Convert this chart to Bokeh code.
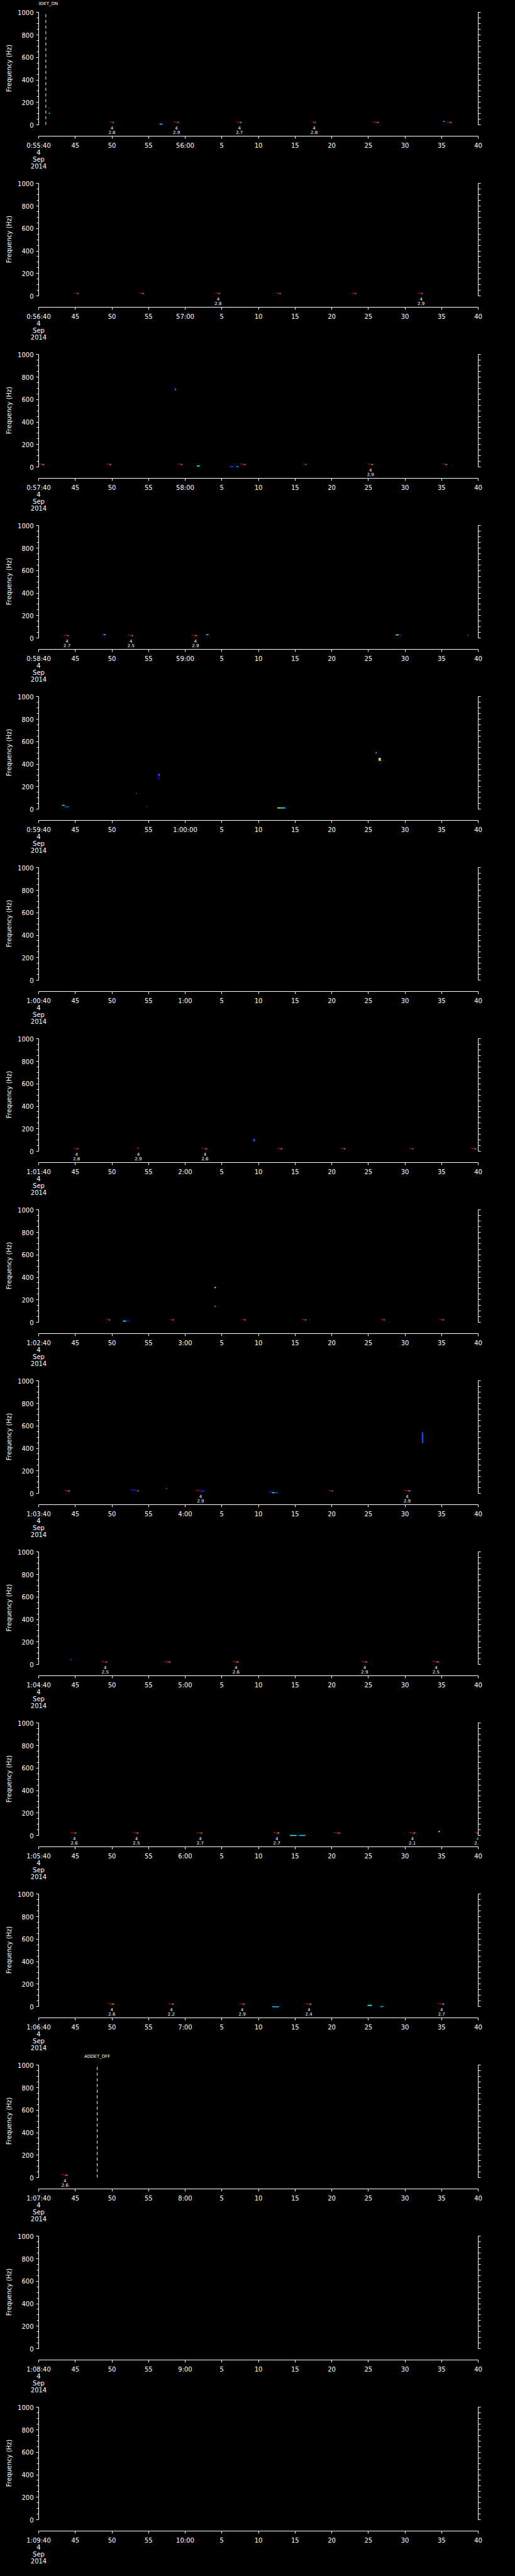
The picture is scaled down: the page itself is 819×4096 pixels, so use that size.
import numpy as np
from bokeh.plotting import figure
from bokeh.layouts import column
from bokeh.models import Range1d, LinearAxis, FixedTicker, ColumnDataSource, LinearColorMapper
from bokeh.core.properties import value
from bokeh.embed import file_html
from bokeh.resources import INLINE

# ---------------- data ----------------
panel_start_labels = ["0:55:40", "0:56:40", "0:57:40", "0:58:40", "0:59:40",
                      "1:00:40", "1:01:40", "1:02:40", "1:03:40", "1:04:40",
                      "1:05:40", "1:06:40", "1:07:40", "1:08:40", "1:09:40"]
date_lines = ["4", "Sep", "2014"]
freq_major = [0, 200, 400, 600, 800, 1000]
freq_minor = [50, 100, 150, 250, 300, 350, 450, 500, 550, 650, 700, 750, 850, 900, 950]

# detected signal spectral signature (fraction of duration, freq offset Hz, level)
sig_frac0 = [0.00, 0.40, 0.73, 0.82, 0.91]
sig_frac1 = [0.40, 0.73, 0.82, 0.91, 1.00]
sig_df = [5, 0, 0, 0, 0]
sig_level = [0.97, 0.93, 0.62, 0.38, 0.15]
sig_base_freq = 22

# detected signals: panel, start (s after panel start), duration (s)
tp_panel = [0, 0, 0, 0, 0, 0,
            1, 1, 1, 1, 1, 1,
            2, 2, 2, 2, 2, 2, 2,
            3, 3, 3,
            6, 6, 6, 6, 6, 6,
            7, 7, 7, 7, 7, 7,
            8, 8, 8, 8, 8,
            9, 9, 9, 9, 9,
            10, 10, 10, 10, 10, 10, 10,
            11, 11, 11, 11, 11,
            12]
tp_t = [9.6, 18.4, 26.95, 37.2, 45.6, 55.7,
        4.9, 13.7, 24.1, 32.4, 42.7, 51.8,
        0.0, 9.25, 19.0, 27.5, 36.1, 44.9, 55.1,
        3.44, 12.15, 20.87,
        4.82, 22.25, 32.6, 41.2, 50.6, 59.0,
        9.27, 17.87, 27.7, 35.9, 46.7, 54.7,
        3.52, 13.15, 21.4, 39.6, 49.8,
        8.6, 17.16, 26.47, 44.06, 53.7,
        4.34, 12.86, 21.58, 32.03, 40.3, 50.56, 59.5,
        9.47, 17.67, 27.3, 36.37, 54.5,
        3.04]
tp_dur = [0.75, 0.8, 0.8, 0.7, 0.9, 0.7,
          0.6, 0.7, 0.7, 0.7, 0.7, 0.7,
          0.8, 0.7, 0.7, 0.8, 0.5, 0.8, 0.7,
          0.7, 0.8, 0.8,
          0.63, 0.8, 0.7, 0.7, 0.6, 0.8,
          0.52, 0.63, 0.6, 0.7, 0.6, 0.7,
          0.78, 0.55, 1.2, 0.6, 1.0,
          0.83, 0.87, 0.87, 0.84, 1.0,
          0.87, 0.83, 0.8, 0.87, 0.9, 0.94, 0.5,
          0.87, 0.83, 0.86, 0.9, 0.9,
          0.99]

# other spectrogram cells: panel, t0, t1, f0, f1, level
oc_panel = [0, 0, 0, 0, 0, 0, 0, 0,
            2, 2, 2, 2, 2,
            3, 3, 3, 3, 3, 3, 3,
            4, 4, 4, 4, 4, 4, 4, 4, 4, 4, 4, 4, 4, 4, 4,
            6, 6,
            7, 7, 7, 7,
            8, 8, 8, 8, 8, 8, 8,
            9,
            10, 10, 10, 10,
            11, 11, 11]
oc_t0 = [1.3, 1.4, 1.35, 16.4, 16.55, 16.85, 55.1, 55.25,
         18.4, 18.6, 21.6, 26.1, 26.95,
         8.68, 8.9, 22.84, 48.7, 48.95, 49.15, 58.5,
         3.16, 3.55, 13.3, 14.7, 16.33, 16.38, 32.6, 32.85, 33.1, 33.6, 46.0, 46.15, 46.4, 46.7, 47.0,
         13.4, 29.27,
         11.5, 11.9, 24.0, 24.0,
         12.6, 17.4, 22.0, 31.45, 31.85, 32.2, 52.3,
         4.3,
         34.3, 35.2, 35.6, 54.6,
         31.87, 44.9, 46.6]
oc_t1 = [1.4, 1.55, 1.5, 16.55, 16.85, 17.0, 55.25, 55.4,
         18.6, 18.75, 22.0, 26.6, 27.3,
         8.9, 9.12, 23.2, 48.95, 49.15, 49.5, 58.7,
         3.55, 4.15, 13.4, 14.8, 16.5, 16.5, 32.85, 33.1, 33.6, 33.8, 46.15, 46.3, 46.7, 46.85, 47.2,
         13.7, 29.55,
         11.9, 12.35, 24.2, 24.2,
         13.15, 17.5, 22.6, 31.85, 32.2, 32.7, 52.5,
         4.5,
         35.2, 35.6, 36.4, 54.75,
         32.8, 45.5, 47.1]
oc_f0 = [98, 98, 141, 2, 2, 2, 26, 26,
         702, 686, 5, -1, -1,
         26, 26, 26, 24, 24, 24, 19,
         29, 16, 134, 19, 262, 300, 6, 6, 6, 6, 495, 500, 430, 424, 432,
         23, 87,
         6, 6, 304, 137,
         26, 38, 18, 11, 1, 1, 447,
         36,
         -4, -4, -4, 30,
         -6, 6, -4]
oc_f1 = [107, 107, 150, 11, 11, 11, 35, 35,
         711, 695, 14, 8, 8,
         35, 35, 35, 33, 33, 33, 28,
         38, 25, 143, 28, 309, 312, 15, 15, 15, 15, 504, 509, 456, 433, 441,
         32, 110,
         15, 15, 313, 146,
         35, 47, 27, 20, 10, 10, 544,
         45,
         5, 5, 5, 42,
         3, 15, 5]
oc_level = [0.15, 0.38, 0.2, 0.15, 0.36, 0.15, 0.12, 0.35,
            0.12, 0.36, 0.36, 0.18, 0.25,
            0.15, 0.34, 0.3, 0.38, 0.6, 0.15, 0.2,
            0.36, 0.2, 0.3, 0.22, 0.12, 0.36, 0.62, 0.5, 0.38, 0.15, 0.5, 0.15, 0.5, 0.85, 0.15,
            0.93, 0.2,
            0.36, 0.15, 0.62, 0.3,
            0.15, 0.36, 0.12, 0.15, 0.45, 0.2, 0.2,
            0.2,
            0.45, 0.15, 0.36, 0.6,
            0.3, 0.4, 0.3]

# annotations under detections: panel, time, station count, value
an_panel = [0, 0, 0, 0, 1, 1, 2, 3, 3, 3, 6, 6, 6, 8, 8, 9, 9, 9, 9,
            10, 10, 10, 10, 10, 10, 11, 11, 11, 11, 11, 12]
an_t = [10.0, 18.8, 27.4, 37.6, 24.5, 52.2, 45.3, 3.87, 12.6, 21.4, 5.17, 13.6, 22.7,
        22.1, 50.3, 9.08, 26.94, 44.5, 54.24,
        4.86, 13.34, 22.05, 32.5, 51.0, 59.95, 9.98, 18.1, 27.77, 36.88, 55.0, 3.59]
an_count = ["4"] * 31
an_value = ["2.8", "2.9", "2.7", "2.8", "2.8", "2.9", "2.9", "2.7", "2.5", "2.9", "2.8", "2.9", "2.6",
            "2.9", "2.9", "2.5", "2.6", "2.9", "2.5",
            "2.6", "2.5", "2.7", "2.7", "2.1", "2.5", "2.6", "2.2", "2.9", "2.4", "2.7", "2.6"]

# instrument events
ev_panel = [0, 12]
ev_t = [0.98, 7.99]
ev_label = ["ADDET_ON", "ADDET_OFF"]


# ---------------- helpers ----------------
def to_sec(s):
    h, m, sec = [int(v) for v in s.split(":")]
    return h * 3600 + m * 60 + sec


def tick_label(sec, first):
    h, rem = divmod(sec, 3600)
    m, s = divmod(rem, 60)
    if first:
        return "%d:%02d:%02d\n" % (h, m, s) + "\n".join(date_lines)
    if s == 0:
        if m == 0:
            return "%d:%02d:%02d" % (h, m, s)
        return "%d:%02d" % (m, s)
    return str(s)


def jet(x):
    r = min(max(1.5 - abs(4 * x - 3), 0), 1)
    g = min(max(1.5 - abs(4 * x - 2), 0), 1)
    b = min(max(1.5 - abs(4 * x - 1), 0), 1)
    return "#%02x%02x%02x" % (int(r * 255), int(g * 255), int(b * 255))


palette = [jet(i / 255) for i in range(256)]
mapper = LinearColorMapper(palette=palette, low=0, high=1)

FONT = "DejaVu Sans"
W, H = 803, 272
CELL_H = 9

figs = []
for i, lab in enumerate(panel_start_labels):
    st = to_sec(lab)
    p = figure(width=W, height=H, output_backend="svg", toolbar_location=None,
               x_range=Range1d(st, st + 60), y_range=Range1d(-100.4, 1108),
               x_axis_type=None, y_axis_type=None,
               min_border_left=61, min_border_right=43, min_border_top=0, min_border_bottom=51,
               background_fill_color="black", border_fill_color="black",
               outline_line_color=None)
    p.xgrid.visible = False
    p.ygrid.visible = False

    # x axis
    xt = [st + 5 * k for k in range(13)]
    xaxis = LinearAxis(ticker=FixedTicker(ticks=xt, minor_ticks=[]),
                       major_label_overrides={t: tick_label(t, k == 0) for k, t in enumerate(xt)})
    xaxis.axis_line_color = "white"
    xaxis.major_tick_line_color = "white"
    xaxis.minor_tick_line_color = None
    xaxis.major_tick_out = 4
    xaxis.major_tick_in = 0
    xaxis.major_label_standoff = 5
    xaxis.major_label_text_color = "white"
    xaxis.major_label_text_font = FONT
    xaxis.major_label_text_font_size = "10px"
    xaxis.major_label_text_line_height = 1.0
    p.add_layout(xaxis, "below")

    # left y axis (labelled)
    yl = LinearAxis(ticker=FixedTicker(ticks=freq_major, minor_ticks=freq_minor),
                    bounds=(0, 1000), axis_label="Frequency (Hz)")
    yl.axis_line_color = "white"
    yl.major_tick_line_color = "white"
    yl.minor_tick_line_color = "white"
    yl.major_tick_out = 4
    yl.minor_tick_out = 3
    yl.major_tick_in = 0
    yl.minor_tick_in = 0
    yl.major_label_text_color = "white"
    yl.major_label_text_font = FONT
    yl.major_label_text_font_size = "10px"
    yl.major_label_standoff = 4
    yl.axis_label_text_color = "white"
    yl.axis_label_text_font = FONT
    yl.axis_label_text_font_size = "10px"
    yl.axis_label_text_font_style = "normal"
    yl.axis_label_standoff = 5
    p.add_layout(yl, "left")

    # right y axis (ticks only, no labels)
    yr = LinearAxis(ticker=FixedTicker(ticks=[], minor_ticks=freq_major + freq_minor),
                    bounds=(0, 1000))
    yr.axis_line_color = "white"
    yr.minor_tick_line_color = "white"
    yr.minor_tick_out = 4
    yr.minor_tick_in = 0
    yr.major_tick_line_color = None
    p.add_layout(yr, "right")

    # spectrogram cells from detected signals
    left, right, bottom, top, lev = [], [], [], [], []
    for pp, t, d in zip(tp_panel, tp_t, tp_dur):
        if pp != i:
            continue
        for f0, f1, df, lv in zip(sig_frac0, sig_frac1, sig_df, sig_level):
            left.append(st + t + f0 * d)
            right.append(st + t + f1 * d)
            bottom.append(sig_base_freq + df - CELL_H / 2)
            top.append(sig_base_freq + df + CELL_H / 2)
            lev.append(lv)
    for pp, a0, a1, b0, b1, lv in zip(oc_panel, oc_t0, oc_t1, oc_f0, oc_f1, oc_level):
        if pp != i:
            continue
        left.append(st + a0)
        right.append(st + a1)
        bottom.append(b0)
        top.append(b1)
        lev.append(lv)
    if left:
        src = ColumnDataSource(dict(left=left, right=right, bottom=bottom, top=top, level=lev))
        p.quad(left="left", right="right", bottom="bottom", top="top", source=src,
               fill_color={"field": "level", "transform": mapper}, line_color=None)

    # annotations
    ax_t = [st + t for pp, t in zip(an_panel, an_t) if pp == i]
    if ax_t:
        c_txt = [c for pp, c in zip(an_panel, an_count) if pp == i]
        v_txt = [v for pp, v in zip(an_panel, an_value) if pp == i]
        p.text(x=ax_t, y=[-27] * len(ax_t), text=c_txt, text_color="white",
               text_font=value(FONT), text_font_size="7px",
               text_align="center", text_baseline="middle")
        p.text(x=ax_t, y=[-66] * len(ax_t), text=v_txt, text_color="white",
               text_font=value(FONT), text_font_size="7px",
               text_align="center", text_baseline="middle")

    # instrument events
    e_t = [st + t for pp, t in zip(ev_panel, ev_t) if pp == i]
    if e_t:
        e_l = [l for pp, l in zip(ev_panel, ev_label) if pp == i]
        p.segment(x0=e_t, y0=[0] * len(e_t), x1=e_t, y1=[1000] * len(e_t),
                  line_color="white", line_width=1, line_dash="5 4")
        p.text(x=e_t, y=[1076] * len(e_t), text=e_l, text_color="white",
               text_font=value(FONT), text_font_size="7px",
               text_align="center", text_baseline="middle")
    figs.append(p)

layout = column(*figs, spacing=0)
html = file_html(layout, INLINE, title="ADDET spectrogram")
html = html.replace("<head>", "<head><style>html,body{background:#000000;}</style>", 1)
open("out.html", "w").write(html)
